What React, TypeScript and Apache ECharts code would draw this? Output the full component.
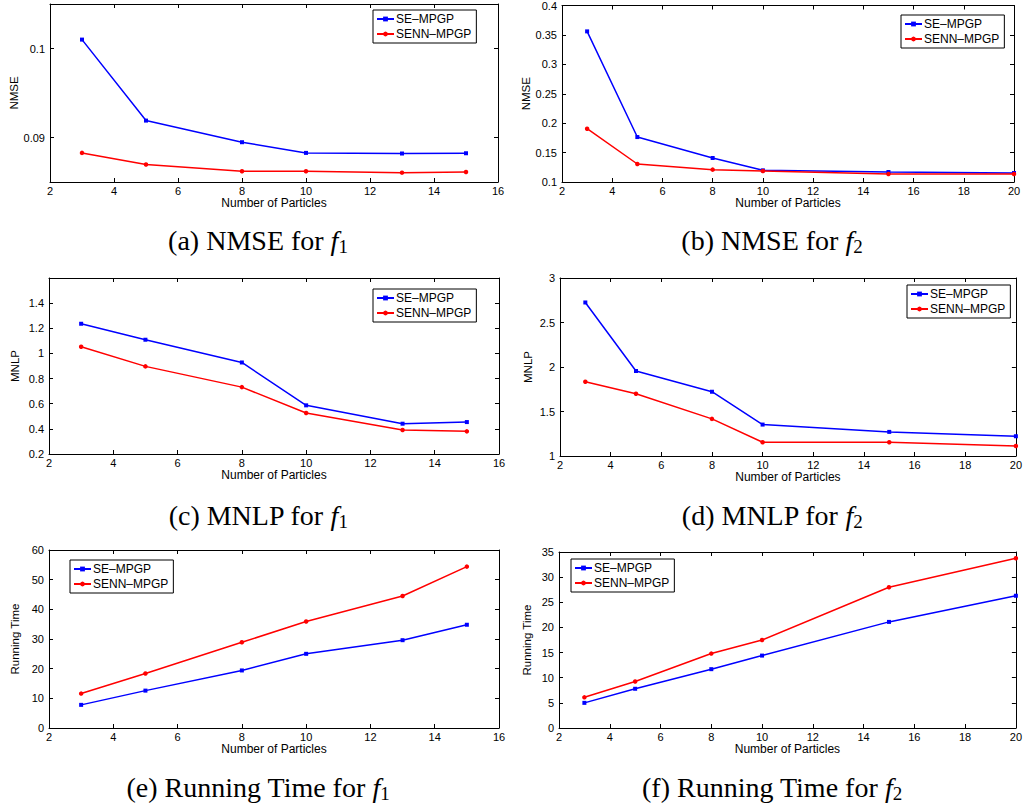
import React, { useEffect, useRef } from "react";
import * as echarts from "echarts";

const SE = "SE–MPGP";
const SENN = "SENN–MPGP";

const particlesF1 = [3, 5, 8, 10, 13, 15];
const particlesF2 = [3, 5, 8, 10, 15, 20];

const nmseF1SE = [0.101, 0.0919, 0.08947, 0.08827, 0.0882, 0.08823];
const nmseF1SENN = [0.08827, 0.08696, 0.0862, 0.0862, 0.08605, 0.08613];
const nmseF2SE = [0.356, 0.1764, 0.1408, 0.1198, 0.117, 0.1153];
const nmseF2SENN = [0.1906, 0.1306, 0.121, 0.1187, 0.1136, 0.1136];
const mnlpF1SE = [1.236, 1.109, 0.928, 0.587, 0.441, 0.454];
const mnlpF1SENN = [1.053, 0.897, 0.732, 0.526, 0.391, 0.38];
const mnlpF2SE = [2.725, 1.955, 1.722, 1.353, 1.271, 1.222];
const mnlpF2SENN = [1.835, 1.699, 1.417, 1.154, 1.154, 1.113];
const timeF1SE = [7.8, 12.6, 19.4, 25.0, 29.6, 34.8];
const timeF1SENN = [11.6, 18.35, 28.9, 35.9, 44.5, 54.4];
const timeF2SE = [5.0, 7.8, 11.7, 14.4, 21.1, 26.3];
const timeF2SENN = [6.1, 9.25, 14.8, 17.5, 28.0, 33.75];

const yTicksNmseF1 = [0.09, 0.1];
const yLabelsMnlpF1 = [0.2, 0.4, 0.6, 0.8, 1, 1.2, 1.4];

const captions = [
  { tag: "(a) NMSE for ", sub: "1" },
  { tag: "(b) NMSE for ", sub: "2" },
  { tag: "(c) MNLP for ", sub: "1" },
  { tag: "(d) MNLP for ", sub: "2" },
  { tag: "(e) Running Time for ", sub: "1" },
  { tag: "(f) Running Time for ", sub: "2" },
];

const panels = [
  { x: particlesF1, se: nmseF1SE, senn: nmseF1SENN, yName: "NMSE", xMax: 16, yMin: 0.085, yMax: 0.105, yInt: 0.005, yCustom: yTicksNmseF1, labelCustom: yTicksNmseF1,
    grid: { left: 50, top: 4, width: 448, height: 178 }, nameGap: 29, legend: { left: 373, top: 10 }, cap: { x: 258, y: 240 } },
  { x: particlesF2, se: nmseF2SE, senn: nmseF2SENN, yName: "NMSE", xMax: 20, yMin: 0.1, yMax: 0.4, yInt: 0.05,
    grid: { left: 562, top: 5, width: 452, height: 177 }, nameGap: 27, legend: { left: 901, top: 15 }, cap: { x: 772, y: 240 } },
  { x: particlesF1, se: mnlpF1SE, senn: mnlpF1SENN, yName: "MNLP", xMax: 16, yMin: 0.2, yMax: 1.6, yInt: 0.2, labelCustom: yLabelsMnlpF1,
    grid: { left: 49, top: 278, width: 450, height: 176 }, nameGap: 28, legend: { left: 373, top: 289 }, cap: { x: 258, y: 515 } },
  { x: particlesF2, se: mnlpF2SE, senn: mnlpF2SENN, yName: "MNLP", xMax: 20, yMin: 1, yMax: 3, yInt: 0.5,
    grid: { left: 560, top: 278, width: 457, height: 178 }, nameGap: 26, legend: { left: 907, top: 285 }, cap: { x: 772, y: 515 } },
  { x: particlesF1, se: timeF1SE, senn: timeF1SENN, yName: "Running Time", xMax: 16, yMin: 0, yMax: 60, yInt: 10,
    grid: { left: 49, top: 550, width: 450, height: 178 }, nameGap: 28, legend: { left: 70, top: 560 }, cap: { x: 258, y: 787 } },
  { x: particlesF2, se: timeF2SE, senn: timeF2SENN, yName: "Running Time", xMax: 20, yMin: 0, yMax: 35, yInt: 5,
    grid: { left: 559, top: 552, width: 458, height: 176 }, nameGap: 26, legend: { left: 571, top: 559 }, cap: { x: 772, y: 787 } },
];

const FONT = "Liberation Sans";

export default function App() {
  const ref = useRef<HTMLDivElement>(null);
  useEffect(() => {
    if (!ref.current) return;
    const chart = echarts.init(ref.current, null, { renderer: "svg" });
    const grids: any[] = [];
    const xAxes: any[] = [];
    const yAxes: any[] = [];
    const series: any[] = [];
    const legends: any[] = [];
    const graphics: any[] = [];
    const line = { show: true, lineStyle: { color: "#000", width: 1 } };
    panels.forEach((p, i) => {
      grids.push({ ...p.grid, show: false });
      const xBase = {
        type: "value", gridIndex: i, min: 2, max: p.xMax, interval: 2,
        axisLine: { ...line, onZero: false }, splitLine: { show: false },
        axisTick: { inside: true, length: 4, lineStyle: { color: "#000" } },
      };
      xAxes.push({
        ...xBase, position: "bottom",
        axisLabel: { color: "#000", fontFamily: FONT, fontSize: 11, margin: 3 },
        name: "Number of Particles", nameLocation: "middle", nameGap: 13,
        nameTextStyle: { color: "#000", fontFamily: FONT, fontSize: 12 },
      });
      xAxes.push({ ...xBase, position: "top", axisLabel: { show: false } });
      const tickCfg: any = { inside: true, length: 4, lineStyle: { color: "#000" } };
      if (p.yCustom) tickCfg.customValues = p.yCustom;
      const yBase = {
        type: "value", gridIndex: i, min: p.yMin, max: p.yMax, interval: p.yInt,
        axisLine: { ...line, onZero: false }, splitLine: { show: false }, axisTick: tickCfg,
      };
      const lab: any = { color: "#000", fontFamily: FONT, fontSize: 11, margin: 5 };
      if (p.labelCustom) lab.customValues = p.labelCustom;
      yAxes.push({
        ...yBase, position: "left", axisLabel: lab,
        name: p.yName, nameLocation: "middle", nameGap: p.nameGap,
        nameTextStyle: { color: "#000", fontFamily: FONT, fontSize: 11.5 },
      });
      yAxes.push({ ...yBase, position: "right", axisLabel: { show: false } });
      series.push({
        name: SE, type: "line", xAxisIndex: 2 * i, yAxisIndex: 2 * i,
        data: p.x.map((x, k) => [x, p.se[k]]),
        symbol: "rect", symbolSize: 4, color: "#0000ff",
        lineStyle: { color: "#0000ff", width: 1.5 }, itemStyle: { color: "#0000ff" },
      });
      series.push({
        name: SENN, type: "line", xAxisIndex: 2 * i, yAxisIndex: 2 * i,
        data: p.x.map((x, k) => [x, p.senn[k]]),
        symbol: "circle", symbolSize: 4.5, color: "#ff0000",
        lineStyle: { color: "#ff0000", width: 1.5 }, itemStyle: { color: "#ff0000" },
      });
      legends.push({
        data: [SE, SENN], left: p.legend.left, top: p.legend.top, orient: "vertical",
        borderColor: "#000", borderWidth: 1, backgroundColor: "#fff", borderRadius: 0,
        padding: [2, 5, 2, 3], itemGap: 1, itemWidth: 17, itemHeight: 6, selectedMode: false,
        textStyle: { color: "#000", fontFamily: FONT, fontSize: 12, lineHeight: 14, padding: [0, 0, 0, -3] },
      });
      const c = captions[i];
      graphics.push({
        type: "text", x: p.cap.x, y: p.cap.y,
        style: {
          text: `{n|${c.tag}}{i|f}{s|${c.sub}}`,
          align: "center", verticalAlign: "middle",
          rich: {
            n: { fontFamily: "Liberation Serif", fontSize: 28, color: "#000", lineHeight: 31 },
            i: { fontFamily: "Liberation Serif", fontSize: 28, fontStyle: "italic", color: "#000", lineHeight: 31 },
            s: { fontFamily: "Liberation Serif", fontSize: 19, color: "#000", lineHeight: 18, verticalAlign: "bottom" },
          },
        },
      });
    });
    chart.setOption({
      animation: false,
      backgroundColor: "#fff",
      grid: grids,
      xAxis: xAxes,
      yAxis: yAxes,
      series,
      legend: legends,
      graphic: graphics,
    });
    return () => chart.dispose();
  }, []);
  return (
    <div
      ref={ref}
      style={{ position: "absolute", left: 0, top: 0, width: 1025, height: 806 }}
    />
  );
}
